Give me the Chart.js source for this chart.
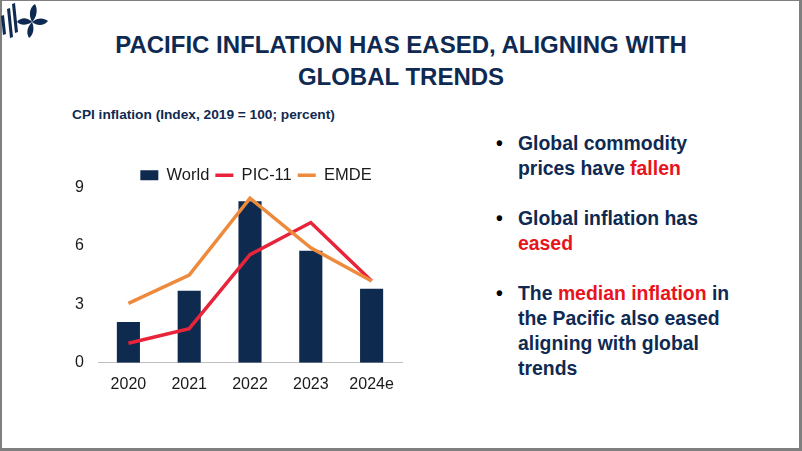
<!DOCTYPE html>
<html>
<head>
<meta charset="utf-8">
<script src="https://cdn.jsdelivr.net/npm/chart.js@4.4.0/dist/chart.umd.min.js"></script>
<style>
  html, body { margin: 0; padding: 0; }
  body { width: 802px; height: 451px; position: relative; overflow: hidden; background: #fff; font-family: "Liberation Sans", Arial, sans-serif; }
  .frame { position: absolute; left: 0; top: 0; width: 797px; height: 447px; border: 1px solid #7f7f7f; border-left-width: 2px; border-right-width: 3px; border-bottom-width: 3px; box-sizing: content-box; }
  .title { position: absolute; left: 0; top: 29px; width: 802px; text-align: center; color: #0f2a52; font-weight: bold; font-size: 24px; line-height: 32px; }
  .subtitle { position: absolute; left: 72px; top: 107px; color: #0f2a52; font-weight: bold; font-size: 13.7px; }
  .chart-box { position: absolute; left: 64px; top: 155px; width: 346px; height: 251px; }
  .bullets { position: absolute; left: 496px; top: 131px; width: 236px; margin: 0; padding: 0; list-style: none; color: #0f2a52; font-weight: bold; font-size: 19.4px; line-height: 25px; }
  .bullets li { position: relative; padding-left: 22px; margin-bottom: 25px; }
  .bullets li::before { content: "\2022"; position: absolute; left: 0; top: 0; color: #000; }
  .red { color: #e8141c; }
  .logo { position: absolute; left: 0; top: 0; }
</style>
</head>
<body>
<div class="frame"></div>
<svg class="logo" width="52" height="42" viewBox="0 0 52 42">
  <g fill="#0f2a52">
    <polygon points="1,16 4,15 6,34 3,35"/>
    <polygon points="7,9 10,8 13,37 10,38"/>
    <polygon points="12,4 15,3 18,32 15,33"/>
    <path d="M32,22 C28,14 30,7 35,4 C38,9 37,17 32,22 Z"/>
    <path d="M32,22 C38,17 44,18 48,21 C44,26 37,26 32,22 Z"/>
    <path d="M32,22 C35,29 33,35 29,38 C26,33 27,27 32,22 Z"/>
    <path d="M32,22 C26,26 20,25 17,22 C21,17 27,17 32,22 Z"/>
  </g>
</svg>
<div class="title">PACIFIC INFLATION HAS EASED, ALIGNING WITH<br>GLOBAL TRENDS</div>
<div class="subtitle">CPI inflation (Index, 2019 = 100; percent)</div>
<div class="chart-box"><canvas id="cpiChart"></canvas></div>
<ul class="bullets">
  <li>Global commodity prices have <span class="red">fallen</span></li>
  <li>Global inflation has <span class="red">eased</span></li>
  <li>The <span class="red">median inflation</span> in the Pacific also eased aligning with global trends</li>
</ul>
<script>
const years = ["2020", "2021", "2022", "2023", "2024e"];
const worldValues = [2.1, 3.7, 8.3, 5.75, 3.8];
const picValues = [1.0, 1.75, 5.55, 7.2, 4.2];
const emdeValues = [3.05, 4.5, 8.45, 5.9, 4.2];
const yTicks = [0, 3, 6, 9];

// legend sits close above the plot and a bit right of centre in the original
const legendShift = {
  id: "legendShift",
  afterLayout(chart) {
    const lg = chart.legend;
    if (!lg) return;
    lg.left += 23;
    lg.right += 23;
    lg.top += 6;
    lg.bottom += 6;
  }
};

const ctx = document.getElementById("cpiChart");

const chart = new Chart(ctx, {
  type: "bar",
  data: {
    labels: years,
    datasets: [
      {
        label: "World",
        data: worldValues,
        backgroundColor: "#0f2a4f",
        borderWidth: 0,
        barPercentage: 0.76,
        categoryPercentage: 0.5,
        pointStyle: "rect",
        order: 3
      },
      {
        type: "line",
        label: "PIC-11",
        data: picValues,
        borderColor: "#e8243a",
        backgroundColor: "#e8243a",
        borderWidth: 3.5,
        pointRadius: 0,
        pointStyle: "line",
        tension: 0,
        order: 2
      },
      {
        type: "line",
        label: "EMDE",
        data: emdeValues,
        borderColor: "#ee8a3c",
        backgroundColor: "#ee8a3c",
        borderWidth: 3.5,
        pointRadius: 0,
        pointStyle: "line",
        tension: 0,
        order: 1
      }
    ]
  },
  plugins: [legendShift],
  options: {
    responsive: true,
    maintainAspectRatio: false,
    animation: false,
    layout: { padding: { left: 0, right: 8, top: 0, bottom: 0 } },
    plugins: {
      legend: {
        position: "top",
        labels: {
          usePointStyle: true,
          pointStyleWidth: 18,
          boxHeight: 10,
          padding: 6,
          color: "#1a1a1a",
          font: { family: "Liberation Sans", size: 16.5 },
          sort: (a, b) => a.datasetIndex - b.datasetIndex
        }
      },
      tooltip: { enabled: false }
    },
    scales: {
      x: {
        grid: { display: false, drawTicks: false },
        border: { color: "#bfbfbf", width: 1 },
        ticks: { color: "#1a1a1a", padding: 12, font: { family: "Liberation Sans", size: 16 } }
      },
      y: {
        min: 0,
        max: 9,
        afterBuildTicks: scale => {
          scale.ticks = yTicks.map(v => ({ value: v }));
        },
        afterFit: scale => { scale.width = 34; },
        grid: { display: false, drawTicks: false },
        border: { display: false },
        ticks: { color: "#1a1a1a", padding: 14, font: { family: "Liberation Sans", size: 16 } }
      }
    }
  }
});
</script>
</body>
</html>
